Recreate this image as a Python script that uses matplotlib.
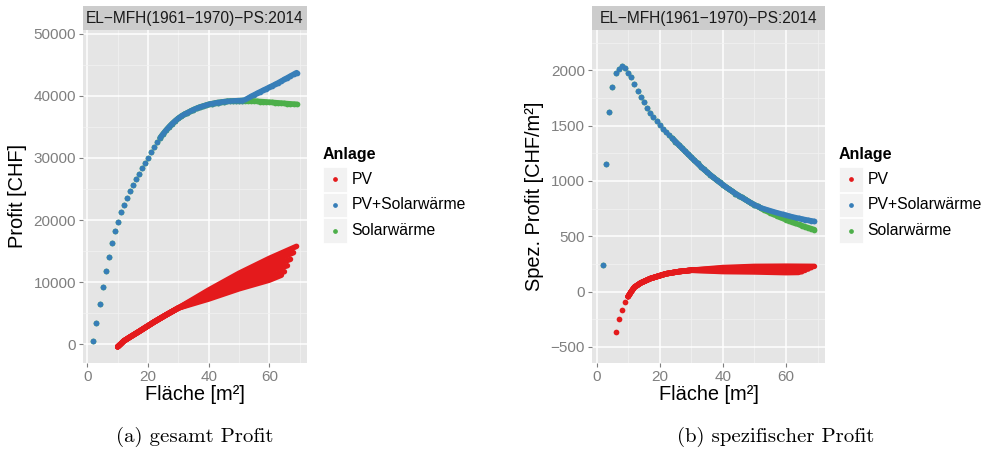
import numpy as np
import matplotlib.pyplot as plt
from matplotlib.patches import Rectangle
from matplotlib.lines import Line2D

plt.rcParams['font.family'] = ['Liberation Sans', 'DejaVu Sans']

W, H = 986, 454

# Fläche der Anlagen (m²) und Profit (CHF)
area = list(range(2, 70))
pvsw_profit = [480, 3450, 6500, 9250, 11830, 14090, 16290, 18170, 19730, 21290,
               22470, 23550, 24620, 25650, 26610, 27470, 28330, 29250, 30050, 30910,
               31720, 32530, 33250, 33900, 34500, 35050, 35550, 36000, 36400, 36750,
               37050, 37300, 37550, 37800, 38000, 38200, 38350, 38500, 38650, 38750,
               38850, 38950, 39000, 39080, 39130, 39170, 39200, 39230, 39250, 39270,
               39380, 39650, 39920, 40180, 40430, 40680, 40920, 41160, 41400, 41640,
               41880, 42140, 42410, 42680, 42950, 43220, 43490, 43760]
sw_profit = [480, 3450, 6500, 9250, 11830, 14090, 16290, 18170, 19730, 21290,
             22470, 23550, 24620, 25650, 26610, 27470, 28330, 29250, 30050, 30910,
             31720, 32530, 33250, 33900, 34500, 35050, 35550, 36000, 36400, 36750,
             37050, 37300, 37550, 37800, 38000, 38200, 38350, 38500, 38650, 38750,
             38850, 38950, 39000, 39080, 39130, 39170, 39200, 39230, 39250, 39270,
             39250, 39230, 39210, 39180, 39150, 39110, 39080, 39040, 39000, 38970,
             38930, 38890, 38850, 38810, 38770, 38730, 38700, 38660]

# PV: gemeinsamer Anfang, danach mehrere Varianten
pv_start_area = [10, 11, 12, 14, 17, 22, 26, 30]
pv_start_profit = [-450, 0, 480, 1100, 2000, 3550, 4700, 5800]
pv_mid_area = [40, 50, 60]
pv_mid_profit = [[8700, 11400, 13800],
                 [8450, 11000, 13150],
                 [8200, 10550, 12450],
                 [7900, 10050, 11750],
                 [7550, 9450, 10950],
                 [7250, 8900, 10300]]
pv_end_area = [69, 68, 67, 66, 65, 64]
pv_end_profit = [15750, 14730, 13660, 12630, 11660, 11100]

# nur im spezifischen Plot sichtbar
pv_small_area = [6, 7, 8, 9]
pv_small_spez = [-365, -248, -162, -93]

RED, BLUE, GREEN = '#E41A1C', '#377EB8', '#4DAF4A'
labels = ['PV', 'PV+Solarwärme', 'Solarwärme']
colors = [RED, BLUE, GREEN]
DOT = 17
LW = 4.0

fig = plt.figure(figsize=(W / 100, H / 100), dpi=100)


def px_axes(x0, y0, x1, y1):
    return fig.add_axes([x0 / W, 1 - y1 / H, (x1 - x0) / W, (y1 - y0) / H])


def style_panel(ax, xlim, ylim, yticks, yminor):
    ax.set_facecolor('#E5E5E5')
    for s in ax.spines.values():
        s.set_visible(False)
    ax.set_xlim(*xlim)
    ax.set_ylim(*ylim)
    ax.set_xticks([0, 20, 40, 60])
    ax.set_xticks([10, 30, 50, 70], minor=True)
    ax.set_yticks(yticks)
    ax.set_yticks(yminor, minor=True)
    ax.grid(which='major', color='white', lw=1.1)
    ax.grid(which='minor', color='#F2F2F2', lw=0.5)
    ax.set_axisbelow(True)
    ax.tick_params(which='major', length=3.2, width=0.8, color='#7F7F7F',
                   labelcolor='#7F7F7F', labelsize=11, pad=2)
    ax.tick_params(which='minor', length=0)
    ax.set_xlabel('Fläche [m²]', fontsize=14.4, labelpad=1)


def strip(x0, x1, text):
    sa = px_axes(x0, 6, x1, 30)
    sa.set_facecolor('#CCCCCC')
    sa.set_xticks([])
    sa.set_yticks([])
    for s in sa.spines.values():
        s.set_visible(False)
    sa.text(0.5, 0.5, text, ha='center', va='center', fontsize=11.2,
            color='#1A1A1A', transform=sa.transAxes)


def legend(x, y):
    fig.text(x / W, 1 - y / H, 'Anlage', fontsize=11.5, fontweight='bold',
             ha='left', va='center')
    for i, (lab, col) in enumerate(zip(labels, colors)):
        cy = y + 25 + i * 25.6
        fig.add_artist(Rectangle((x / W, 1 - (cy + 12.3) / H), 24.5 / W, 24.6 / H,
                                 transform=fig.transFigure, facecolor='#F2F2F2',
                                 edgecolor='white', lw=0.6))
        fig.add_artist(Line2D([(x + 12.3) / W], [1 - cy / H], marker='o',
                              markersize=2.4, color=col, transform=fig.transFigure))
        fig.text((x + 29) / W, 1 - cy / H, lab, fontsize=11.3, ha='left', va='center')


def pv_strands(spez):
    out = []
    for mid, ex, ey in zip(pv_mid_profit, pv_end_area, pv_end_profit):
        xs = np.array(pv_start_area + pv_mid_area + [ex], dtype=float)
        ys = np.array(pv_start_profit + mid + [ey], dtype=float)
        if spez:
            ys = ys / xs
        out.append((xs, ys))
    return out


def dotted_curve(ax, xs, ys, col):
    # dichte Punkte ab ca. 24 m² verschmelzen zu einer Linie
    dense = xs >= 24
    ax.plot(xs[dense], ys[dense], color=col, lw=LW, solid_capstyle='round')
    ax.scatter(xs, ys, s=DOT, color=col, lw=0)


xa = np.array(area, dtype=float)
pvsw = np.array(pvsw_profit, dtype=float)
sw = np.array(sw_profit, dtype=float)

# (a) gesamt Profit
ax1 = px_axes(83.3, 30, 306.7, 362.7)
style_panel(ax1, (-1.35, 72.35), (-3016, 50645),
            [0, 10000, 20000, 30000, 40000, 50000],
            [5000, 15000, 25000, 35000, 45000])
ax1.set_ylabel('Profit [CHF]', fontsize=14.4, labelpad=5)
for xs, ys in pv_strands(False)[::-1]:
    ax1.plot(xs, ys, color=RED, lw=LW, solid_capstyle='round', solid_joinstyle='round')
dotted_curve(ax1, xa, sw, GREEN)
dotted_curve(ax1, xa, pvsw, BLUE)
strip(83.3, 306.7, 'EL\u2212MFH(1961\u22121970)\u2212PS:2014')
legend(322.7, 154.3)

# (b) spezifischer Profit
ax2 = px_axes(592.3, 30, 825, 362.7)
style_panel(ax2, (-1.35, 72.35), (-642, 2364),
            [-500, 0, 500, 1000, 1500, 2000],
            [-250, 250, 750, 1250, 1750, 2250])
ax2.set_yticklabels(['\u2212500', '0', '500', '1000', '1500', '2000'])
ax2.set_ylabel('Spez. Profit [CHF/m²]', fontsize=14.4, labelpad=5)
for xs, ys in pv_strands(True)[::-1]:
    ax2.plot(xs, ys, color=RED, lw=LW, solid_capstyle='round', solid_joinstyle='round')
ax2.scatter(pv_small_area, pv_small_spez, s=DOT, color=RED, lw=0)
dotted_curve(ax2, xa, sw / xa, GREEN)
dotted_curve(ax2, xa, pvsw / xa, BLUE)
strip(592.3, 825, 'EL\u2212MFH(1961\u22121970)\u2212PS:2014')
legend(838.5, 154.3)

# Bildunterschriften
fig.text(195 / W, 1 - 437 / H, '(a) gesamt Profit', family='cmr10', fontsize=15,
         ha='center', va='center')
fig.text(776 / W, 1 - 437 / H, '(b) spezifischer Profit', family='cmr10', fontsize=15,
         ha='center', va='center')

fig.savefig('out.png', dpi=100)
